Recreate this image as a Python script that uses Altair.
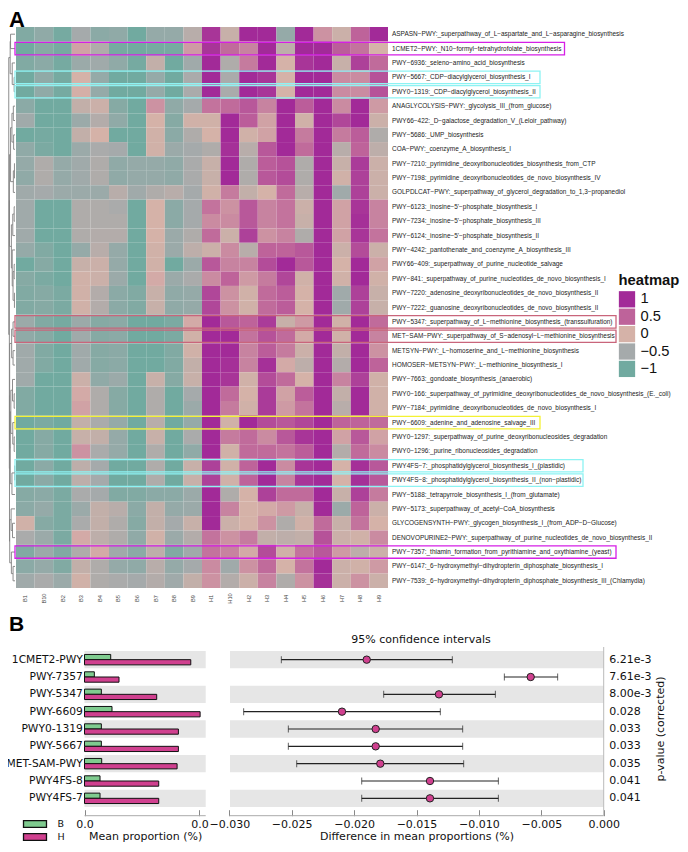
import altair as alt
import pandas as pd

# ---------- data ----------
COLUMNS = ["B1","B10","B2","B3","B4","B5","B6","B7","B8","B9","H1","H10","H2","H3","H4","H5","H6","H7","H8","H9"]
PATHWAYS = [
"ASPASN−PWY:_superpathway_of_L−aspartate_and_L−asparagine_biosynthesis",
"1CMET2−PWY:_N10−formyl−tetrahydrofolate_biosynthesis",
"PWY−6936:_seleno−amino_acid_biosynthesis",
"PWY−5667:_CDP−diacylglycerol_biosynthesis_I",
"PWY0−1319:_CDP−diacylglycerol_biosynthesis_II",
"ANAGLYCOLYSIS−PWY:_glycolysis_III_(from_glucose)",
"PWY66−422:_D−galactose_degradation_V_(Leloir_pathway)",
"PWY−5686:_UMP_biosynthesis",
"COA−PWY:_coenzyme_A_biosynthesis_I",
"PWY−7210:_pyrimidine_deoxyribonucleotides_biosynthesis_from_CTP",
"PWY−7198:_pyrimidine_deoxyribonucleotides_de_novo_biosynthesis_IV",
"GOLPDLCAT−PWY:_superpathway_of_glycerol_degradation_to_1,3−propanediol",
"PWY−6123:_inosine−5'−phosphate_biosynthesis_I",
"PWY−7234:_inosine−5'−phosphate_biosynthesis_III",
"PWY−6124:_inosine−5'−phosphate_biosynthesis_II",
"PWY−4242:_pantothenate_and_coenzyme_A_biosynthesis_III",
"PWY66−409:_superpathway_of_purine_nucleotide_salvage",
"PWY−841:_superpathway_of_purine_nucleotides_de_novo_biosynthesis_I",
"PWY−7220:_adenosine_deoxyribonucleotides_de_novo_biosynthesis_II",
"PWY−7222:_guanosine_deoxyribonucleotides_de_novo_biosynthesis_II",
"PWY−5347:_superpathway_of_L−methionine_biosynthesis_(transsulfuration)",
"MET−SAM−PWY:_superpathway_of_S−adenosyl−L−methionine_biosynthesis",
"METSYN−PWY:_L−homoserine_and_L−methionine_biosynthesis",
"HOMOSER−METSYN−PWY:_L−methionine_biosynthesis_I",
"PWY−7663:_gondoate_biosynthesis_(anaerobic)",
"PWY0−166:_superpathway_of_pyrimidine_deoxyribonucleotides_de_novo_biosynthesis_(E._coli)",
"PWY−7184:_pyrimidine_deoxyribonucleotides_de_novo_biosynthesis_I",
"PWY−6609:_adenine_and_adenosine_salvage_III",
"PWY0−1297:_superpathway_of_purine_deoxyribonucleosides_degradation",
"PWY0−1296:_purine_ribonucleosides_degradation",
"PWY4FS−7:_phosphatidylglycerol_biosynthesis_I_(plastidic)",
"PWY4FS−8:_phosphatidylglycerol_biosynthesis_II_(non−plastidic)",
"PWY−5188:_tetrapyrrole_biosynthesis_I_(from_glutamate)",
"PWY−5173:_superpathway_of_acetyl−CoA_biosynthesis",
"GLYCOGENSYNTH−PWY:_glycogen_biosynthesis_I_(from_ADP−D−Glucose)",
"DENOVOPURINE2−PWY:_superpathway_of_purine_nucleotides_de_novo_biosynthesis_II",
"PWY−7357:_thiamin_formation_from_pyrithiamine_and_oxythiamine_(yeast)",
"PWY−6147:_6−hydroxymethyl−dihydropterin_diphosphate_biosynthesis_I",
"PWY−7539:_6−hydroxymethyl−dihydropterin_diphosphate_biosynthesis_III_(Chlamydia)",
]
MATRIX = [
[-.85,-.7,-.95,-.5,-.75,-.7,-1,-.65,-.65,-.3,.9,-.15,1,1,-.65,1,.2,-.1,.5,1],
[-1,-.8,-.95,.1,-.4,-.95,-1,-.95,-.95,.15,.9,.45,.3,1,-.25,1,1,.55,.4,0],
[-.85,-.75,-.95,-.6,-.55,-.7,-.95,-.2,-1,-.55,1,-.4,.35,1,0,.9,1,-.15,.8,.45],
[-1,-.7,-.95,0,-.65,-1,-1,-.65,-1,-.45,1,-.45,1,.9,0,1,1,.25,.25,.65],
[-1,-.7,-.95,.02,-.65,-1,-1,-.65,-1,-.45,1,-.45,1,.9,0,1,1,.25,.25,.65],
[-.75,-1,-1,-.2,-.1,-.8,-1,.2,-.7,-.5,.4,.45,.6,.3,1,.55,1,.25,1,.15],
[-.55,-1,-1,-.6,-.35,-.7,-1,0,-.8,-.05,-.05,1,.55,.1,1,-.05,1,.75,1,-.1],
[-1,-.95,-1,-.2,0,-1,-1,-.05,-.75,-.4,0,1,-.05,.1,1,.35,1,.35,.55,-.4],
[-.7,-.9,-1,-.6,-.45,-.5,-1,-.05,-.6,-.5,-.4,.95,-.3,.6,1,.45,1,-.3,.5,-.25],
[-.65,-.4,-.65,-.55,-.4,-.7,-.65,-.65,-.7,-.45,-.15,1,-.4,.55,.65,-.4,1,-.15,.85,-.1],
[-.7,-.4,-.65,-.55,-.4,-.7,-.65,-.65,-.7,-.45,-.15,1,-.4,.6,.7,-.4,1,-.05,.8,-.1],
[-.55,-.5,-.6,-.6,-.6,-.3,-.55,-.4,-.3,-.5,-.05,.35,-.2,0,.45,-.3,1,-.55,.8,-.1],
[-.55,-1,-1,-.4,-.4,-.45,-1,0,-.75,-.5,.4,.2,.6,.3,.4,-.1,1,.1,.9,.3],
[-.55,-1,-1,-.4,-.4,-.4,-1,0,-.75,-.5,.25,.25,.6,.3,.4,-.15,1,.1,.95,.3],
[-.55,-1,-1,-.4,-.35,-.35,-1,0,-.6,-.4,.45,-.1,.8,.2,.3,-.4,1,.1,.9,.4],
[-.65,-.85,-1,-.65,-.3,-.65,-1,-.05,-.6,-.25,-.1,.25,-.3,.5,.5,.6,1,-.1,.7,-.1],
[-1,-.8,-1,-.15,-.1,-.65,-1,-.05,-1,-.6,.6,.3,.3,.7,1,.6,1,0,1,.1],
[-.8,-.9,-1,-.05,-.1,-.6,-1,.05,-.6,-.45,.25,.5,.15,.35,.75,-.05,1,-.05,1,-.05],
[-.85,-.8,-.9,-.05,-.35,-.75,-.85,-.15,-.7,-.65,.75,.2,-.05,.45,.55,0,1,-.55,.8,-.15],
[-.85,-.8,-.9,-.05,-.35,-.75,-.85,-.15,-.7,-.65,.75,.2,-.05,.45,.55,0,1,-.55,.8,-.15],
[-.6,-.85,-.95,-.6,-.8,-.75,-1,-1,-.9,.05,1,.6,.5,.85,-.15,.15,1,-.05,1,.45],
[-.7,-.8,-1,-.55,-.8,-.75,-1,-1,-.9,-.05,1,1,.4,.65,.45,.05,1,-.05,1,.3],
[-.55,-.85,-1,-.55,-.8,-.75,-1,-1,-.85,-.05,1,1,.3,.55,.35,-.1,1,-.2,1,.2],
[-.55,-.85,-1,-.55,-.8,-.75,-1,-1,-.85,-.2,1,.95,.3,.95,.05,-.25,1,-.35,1,.5],
[-.55,-1,-1,-.1,-.7,-.6,-1,-.15,-.8,-.15,1,.9,-.05,.7,.45,0,1,.3,.8,-.05],
[-.85,-1,-1,.05,-.4,-.8,-1,-.4,-1,-.5,1,.45,0,.85,.1,.55,1,-.2,1,-.05],
[-.85,-1,-1,.1,-.4,-.8,-1,-.4,-1,-.6,1,.35,-.05,.85,.15,.4,1,-.3,1,-.05],
[-1,-.9,-1,-.2,-.45,-.65,-1,-.3,-1,-.65,1,-.05,1,.7,.6,.75,1,.5,.5,.45],
[-1,-.8,-1,-.15,-.2,-.65,-1,-.15,-1,-.45,1,.35,.45,.25,.6,.9,1,.1,.6,.1],
[-1,-.8,-1,.2,-.45,-.65,-1,-.4,-1,-.7,1,-.05,.45,.45,.4,.55,1,-.35,.45,.25],
[-1,-.75,-1,-.25,-.5,-1,-1,-.4,-1,-.15,.8,-.05,.5,1,.25,.9,1,0,.95,.6],
[-1,-.75,-1,-.25,-.5,-1,-1,-.4,-1,-.15,.8,-.05,.5,1,.3,.9,1,0,.95,.6],
[-.8,-.75,-.9,-.45,-.5,-.85,-.85,-.75,-.75,-.6,1,-.4,0,.8,.45,.45,1,-.15,.8,.35],
[-.75,-.65,-.9,-.6,-.2,-.3,-.75,-.2,-.65,-.6,1,.3,0,.05,.15,-.15,1,-.6,.5,-.1],
[-.05,-.8,-.9,-.45,-.2,-.4,-.8,-.2,-.5,-.15,1,-.1,0,.2,-.4,-.05,.45,-.15,.4,0],
[-.45,-.6,-.9,.05,-.25,-.4,-.7,-.05,-.6,-.35,.4,.2,.35,-.2,-.25,-.2,.65,-.1,-.05,.25],
[-.85,-.6,-.85,-.4,.05,-.55,-.75,-.25,-.85,-.55,.4,.3,.05,.7,-.05,.4,.6,.15,-.25,-.1],
[-.75,-.65,-.85,-.2,-.4,-.65,-.7,-.3,-.65,-.5,.25,-.55,.2,.45,0,.4,1,-.1,-.05,.15],
[-.55,-.45,-.6,-.05,-.4,-.45,-.5,-.35,-.55,-.2,.2,-.35,-.1,.3,-.4,.2,.95,-.1,.2,-.1],
]
# dendrogram: (depth, left, right); an int is a row index
G1 = (6.3, (7, 0, 1), (10, 2, (13.5, 3, 4)))
G2 = (7, (9.5, (12, 5, 6), (12.5, 7, 8)), (12, (14, 9, 10), 11))
G3 = (8.5, (11, (13.5, 12, 13), 14), (10, 15, (11.5, (13.5, 16, 17), (14, 18, 19))))
G4 = (9, (11.5, 20, 21), (11.5, 22, 23))
G5 = (7.5, (10.5, 24, (13.5, 25, 26)), (11, 27, (13.5, 28, 29)))
G6 = (6.5, G5, (9.5, (14.5, 30, 31), 32))
G7 = (4.8, (8, 33, (10.5, 34, 35)), (8.5, 36, (11.5, 37, 38)))
TREE = (0.7, G1, (3.3, (3.6, G2, G3), (3.8, (4.5, G4, G6), G7)))

HIGHLIGHTS = [
    (1, 556.5, "#d51fe6"), (36, 608, "#d51fe6"),
    (3, 532, "#8df3f3"), (4, 532, "#8df3f3"),
    (30, 575, "#8df3f3"), (31, 575, "#8df3f3"),
    (20, 608, "#c9657b"), (21, 608, "#c9657b"),
    (27, 532, "#f4f233"),
]
HEAT_STOPS = [-1, -0.5, 0, 0.5, 1]
HEAT_COLORS = ["#71aaa0", "#a5aaab", "#d5b2a8", "#be639a", "#a22a98"]

B_ROWS = ["1CMET2-PWY","PWY-7357","PWY-5347","PWY-6609","PWY0-1319","PWY-5667","MET-SAM-PWY","PWY4FS-8","PWY4FS-7"]
B_MEAN = [.00625,.00235,.00402,.00656,.00402,.00402,.0041,.0037,.0037]
H_MEAN = [.02534,.00823,.01722,.02757,.02239,.02239,.02208,.0177,.0177]
DIFF   = [-.01899,-.00585,-.0132,-.02097,-.01827,-.01827,-.0179,-.01392,-.01392]
CI_LO  = [-.02583,-.00796,-.01763,-.02885,-.02527,-.02527,-.0246,-.01939,-.01939]
CI_HI  = [-.01213,-.00369,-.00868,-.01309,-.0113,-.0113,-.01122,-.00844,-.00844]
P_VALS = ["6.21e-3","7.61e-3","8.00e-3","0.028","0.033","0.033","0.035","0.041","0.041"]

# ---------- tables ----------
W, H = 672, 836
heat_df = pd.DataFrame([
    {"pathway": p, "sample": c, "value": v}
    for p, row in zip(PATHWAYS, MATRIX) for c, v in zip(COLUMNS, row)
])

segs = []
def walk(n):
    if isinstance(n, int):
        return n, 15.0
    d, l, r = n
    yl, dl = walk(l)
    yr, dr = walk(r)
    segs.append(dict(x=d, x2=d, y=yl, y2=yr))
    segs.append(dict(x=d, x2=dl, y=yl, y2=yl))
    segs.append(dict(x=d, x2=dr, y=yr, y2=yr))
    return (yl + yr) / 2, d
walk(TREE)
tree_df = pd.DataFrame(segs)

prop_df = pd.DataFrame(
    [{"row": r, "group": "B", "mean": v} for r, v in zip(B_ROWS, B_MEAN)] +
    [{"row": r, "group": "H", "mean": v} for r, v in zip(B_ROWS, H_MEAN)]
)
ci_df = pd.DataFrame({"row": B_ROWS, "diff": DIFF, "lo": CI_LO, "hi": CI_HI, "p": P_VALS})
band_df = pd.DataFrame({"row": B_ROWS[::2]})

# ---------- scales ----------
px = lambda v: v - 8
heat_x = alt.Scale(domain=COLUMNS, range=[px(16), px(388)], paddingInner=0, paddingOuter=0)
heat_y = alt.Scale(domain=PATHWAYS, range=[px(27), px(588)], paddingInner=0, paddingOuter=0)
row_y = alt.Scale(domain=B_ROWS, range=[px(651), px(807)], paddingInner=0, paddingOuter=0)
row_yb = alt.Scale(domain=B_ROWS, range=[px(651), px(807)], paddingInner=0.4, paddingOuter=0.2)
prop_x = alt.Scale(domain=[0, 0.0289], range=[px(84.5), px(205.7)], nice=False, zero=False)
ci_x = alt.Scale(domain=[-0.03, 0], range=[px(229.3), px(603.7)], nice=False, zero=False)
DJ = "DejaVu Sans"
LB = "Liberation Sans"

def text(t, x, y, **kw):
    return alt.Chart(alt.Data(values=[{"t": t}])).mark_text(**kw).encode(
        text="t:N", x=alt.value(px(x)), y=alt.value(px(y)))

# ---------- panel A ----------
heat = alt.Chart(heat_df).mark_rect().encode(
    x=alt.X("sample:N", scale=heat_x, sort=None, title=None, axis=alt.Axis(
        orient="bottom", offset=px(588) - H, labelAngle=270, labelAlign="center", labelBaseline="middle",
        labelPadding=10, labelFontSize=5.6, labelFont=LB, labelColor="#444", ticks=False,
        domain=False, labelOverlap=False, grid=False)),
    y=alt.Y("pathway:N", scale=heat_y, sort=None, title=None, axis=alt.Axis(
        orient="right", offset=px(388) - W, labelPadding=3.5, labelFontSize=6.45, labelFont=LB,
        labelColor="#222", ticks=False, domain=False, labelLimit=400, labelOverlap=False, grid=False)),
    color=alt.Color("value:Q", scale=alt.Scale(domain=HEAT_STOPS, range=HEAT_COLORS, interpolate="rgb"),
        legend=alt.Legend(type="symbol", values=[1, .5, 0, -.5, -1], title="heatmap",
            labelExpr="replace(datum.value + '', '-', '−')",
            orient="none", legendX=px(618.5), legendY=px(273), symbolType="square", symbolSize=265,
            symbolStrokeWidth=0, titleFont=LB, titleFontSize=14.8, titleFontWeight="bold", titleColor="#111",
            titlePadding=3, labelFont=LB, labelFontSize=14.7, labelColor="#111", labelOffset=5,
            rowPadding=0.4, padding=0)),
)
tree = alt.Chart(tree_df).mark_rule(color="#808080", strokeWidth=0.9).encode(
    x=alt.X("x:Q", scale=alt.Scale(domain=[0, 6, 15], range=[px(8.6), px(10), px(15)], nice=False, zero=False), axis=None),
    x2="x2:Q",
    y=alt.Y("y:Q", scale=alt.Scale(domain=[-0.5, 38.5], range=[px(27), px(588)], nice=False, zero=False), axis=None),
    y2="y2:Q",
)
boxes = [
    alt.Chart(pd.DataFrame({"pathway": [PATHWAYS[i]]})).mark_rect(
        height=12.4, fillOpacity=0, stroke=c, strokeWidth=1.3).encode(
        x=alt.value(px(15)), x2=alt.value(end),
        y=alt.Y("pathway:N", scale=heat_y, axis=None))
    for i, end, c in HIGHLIGHTS
]

# ---------- panel B: bars ----------
prop_band = alt.Chart(band_df).mark_rect(color="#e6e6e6").encode(
    x=alt.value(px(84.5)), x2=alt.value(px(205.7)),
    y=alt.Y("row:N", scale=row_y, axis=None))
bars = alt.Chart(prop_df).mark_bar(stroke="#111", strokeWidth=1).encode(
    x=alt.X("mean:Q", scale=prop_x, title="Mean proportion (%)", axis=alt.Axis(
        orient="bottom", offset=px(809.7) - H, values=[0, 0.0274], format=".1f", domain=False,
        tickColor="#888", tickSize=6, labelPadding=3, labelFont=DJ, labelFontSize=11, labelColor="#111",
        titleFont=DJ, titleFontSize=11, titleFontWeight="normal", titleColor="#111", titlePadding=1, grid=False,
        labelFlush=False)),
    y=alt.Y("row:N", scale=row_yb, sort=None, title=None, axis=alt.Axis(
        orient="left", offset=-px(84.5), ticks=False, domain=False, labelPadding=2.2, labelFont=DJ,
        labelFontSize=10.7, labelColor="#111", labelOverlap=False, grid=False)),
    yOffset=alt.YOffset("group:N", sort=["B", "H"]),
    color=alt.Color("group:N", scale=alt.Scale(domain=["B", "H"], range=["#7fcb8f", "#d0408f"]),
        legend=alt.Legend(title=None, orient="none", legendX=px(28.5), legendY=px(817.5), padding=0,
            symbolType="M-2,-0.58H2V0.58H-2Z", symbolSize=132, symbolStrokeColor="#111", symbolStrokeWidth=1.3,
            labelFont=DJ, labelFontSize=9.5, labelColor="#111", labelOffset=16, rowPadding=0)),
)
prop_line = alt.Chart(alt.Data(values=[{}])).mark_rule(color="#aaa").encode(
    x=alt.value(px(84.5)), x2=alt.value(px(205.7)), y=alt.value(px(815.7)))

# ---------- panel B: confidence intervals ----------
ci_band = alt.Chart(band_df).mark_rect(color="#e6e6e6").encode(
    x=alt.value(px(230)), x2=alt.value(px(603.7)),
    y=alt.Y("row:N", scale=row_y, axis=None))
ci_right = alt.Chart(alt.Data(values=[{}])).mark_rule(color="#bbb").encode(
    x=alt.value(px(603.7)), y=alt.value(px(647)), y2=alt.value(px(815.7)))
ci_rule = alt.Chart(ci_df).mark_rule(color="#222", strokeWidth=1.2).encode(
    x=alt.X("lo:Q", scale=ci_x, title="Difference in mean proportions (%)", axis=alt.Axis(
        orient="bottom", offset=px(809.7) - H, values=[-.03, -.025, -.02, -.015, -.01, -.005, 0], format=".3f",
        domain=False, tickColor="#888", tickSize=6, labelPadding=3, labelFont=DJ, labelFontSize=11, labelColor="#111",
        titleFont=DJ, titleFontSize=11, titleFontWeight="normal", titleColor="#111", titlePadding=1, grid=False,
        labelFlush=False, labelOverlap=False)),
    x2="hi:Q",
    y=alt.Y("row:N", scale=row_y, sort=None, axis=None),
)
ci_lo = alt.Chart(ci_df).mark_tick(color="#222", size=7, thickness=1).encode(
    x=alt.X("lo:Q", scale=ci_x, axis=None), y=alt.Y("row:N", scale=row_y, sort=None, axis=None))
ci_hi = alt.Chart(ci_df).mark_tick(color="#222", size=7, thickness=1).encode(
    x=alt.X("hi:Q", scale=ci_x, axis=None), y=alt.Y("row:N", scale=row_y, sort=None, axis=None))
ci_pt = alt.Chart(ci_df).mark_point(filled=True, fill="#d0408f", stroke="#222", strokeWidth=1, opacity=1, size=55).encode(
    x=alt.X("diff:Q", scale=ci_x, axis=None), y=alt.Y("row:N", scale=row_y, sort=None, axis=None))
ci_p = alt.Chart(ci_df).mark_text(align="left", font=DJ, fontSize=11, color="#111").encode(
    text="p:N", x=alt.value(px(609.3)), y=alt.Y("row:N", scale=row_y, sort=None, axis=None))
ci_prop_line = alt.Chart(alt.Data(values=[{}])).mark_rule(color="#aaa").encode(
    x=alt.value(px(229.3)), x2=alt.value(px(603.7)), y=alt.value(px(815.7)))

# ---------- assemble ----------
texts = [
    text("A", 9, 19.5, font=LB, fontSize=22, fontWeight="bold", align="left", color="#000"),
    text("B", 9, 625, font=LB, fontSize=21, fontWeight="bold", align="left", color="#000"),
    text("95% confidence intervals", 421, 639.5, font=DJ, fontSize=11, color="#111"),
    text("p-value (corrected)", 661, 729, font=DJ, fontSize=11, color="#111", angle=270),
]
chart = alt.layer(
    heat, tree, *boxes, prop_band, bars, prop_line, ci_band, ci_right, ci_rule, ci_lo, ci_hi, ci_pt, ci_p,
    ci_prop_line, *texts
).resolve_scale(x="independent", y="independent", color="independent").properties(
    width=W, height=H, padding=0, background="white",
    autosize=alt.AutoSizeParams(type="none", contains="padding"),
).configure_view(stroke=None)

chart.save("out.html", embed_options={"renderer": "svg", "actions": False})
